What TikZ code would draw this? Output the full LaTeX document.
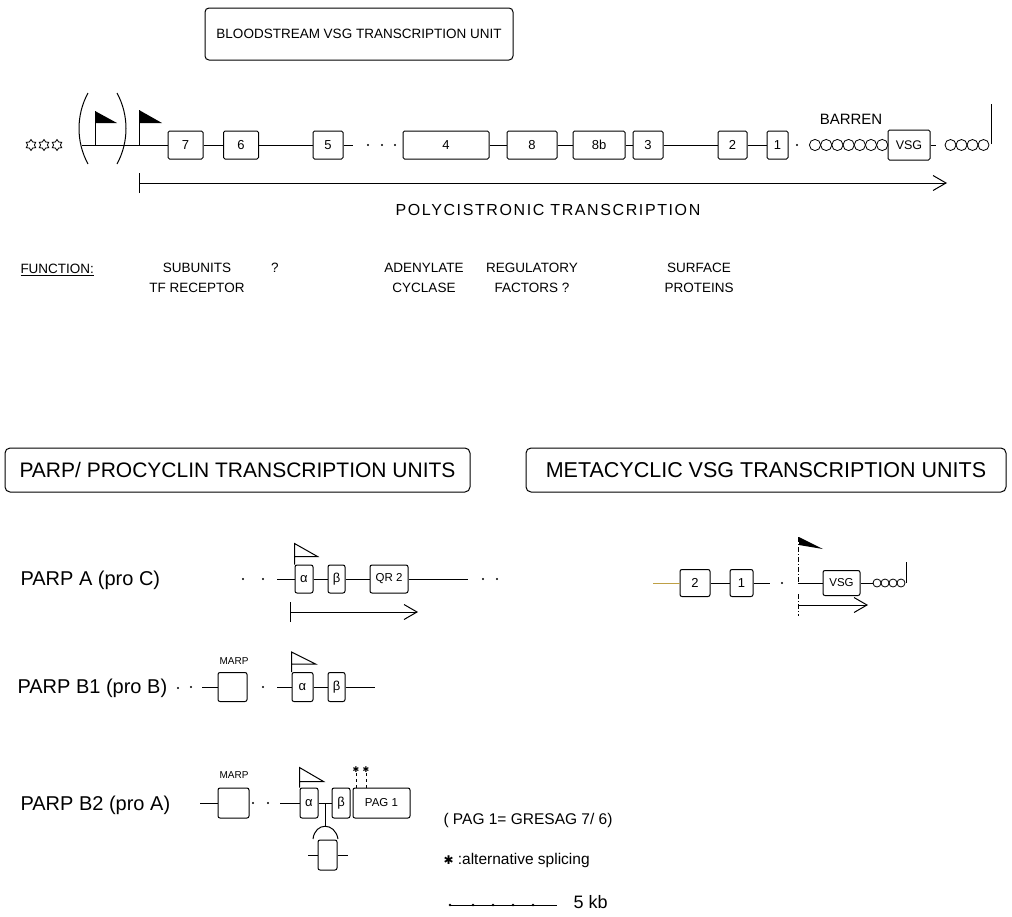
\documentclass[tikz,border=0pt]{standalone}
\usepackage{fontspec}
\setmainfont{Liberation Sans}
\newfontfamily\dejavu{DejaVu Sans}
\newfontfamily\spaced[LetterSpace=10]{Liberation Sans}
\usepackage{tikz}
\usetikzlibrary{
  arrows.meta,
  positioning,
  shapes.geometric
}
\newcommand{\fsz}[1]{\fontsize{#1}{#1}\selectfont}

\begin{document}
\begin{tikzpicture}[
    x=1pt, y=-1pt, line width=1pt,
    unitbox/.style={draw, rounded corners=4pt, inner sep=0pt, font=\fsz{13.5}},
    hdrbox/.style={draw, rounded corners=5pt, inner sep=0pt, font=\fsz{21}},
    gene/.style={draw, rounded corners=1.5pt, inner sep=0pt, minimum height=28pt,
                 font=\fsz{13}},
    exon/.style={draw, rounded corners=2pt, inner sep=0pt, minimum height=28pt,
                 font=\fsz{13}},
    fn/.style={font=\fsz{13.5}, align=center, inner sep=0pt},
    big/.style={font=\fsz{20}, inner sep=0pt, anchor=west},
    leg/.style={font=\fsz{15.5}, inner sep=0pt, anchor=west},
    dotn/.style={circle, fill=black, inner sep=0pt, minimum size=2.4pt},
    rep/.style={draw, line width=0.8pt},
    promo/.style={star, star points=6, star point ratio=1.6, draw, inner sep=0pt,
                  minimum size=11pt, line width=0.8pt},
    txarrow/.style={{Bar[width=20pt]}-{Straight Barb[length=13pt,width=15pt]}}
  ]
    \path[use as bounding box, fill=white] (0,0) rectangle (1012,916);

    % bloodstream unit
    \node[unitbox, minimum width=308pt, minimum height=52pt] (bsT) at (359,34)
      {BLOODSTREAM VSG TRANSCRIPTION UNIT};
    \node[promo] (st1) at (31,145) {};
    \node[promo] (st2) at (44,145) {};
    \node[promo] (st3) at (57,145) {};
    \draw (88,93) .. controls (76,115) and (76,142) .. (88,164);
    \draw (117,93) .. controls (129,115) and (129,142) .. (117,164);
    \draw (95,145) -- (95,111);
    \fill (95,111) -- (117,123) -- (95,123) -- cycle;
    \draw (139,145) -- (139,110);
    \fill (139,110) -- (162,123) -- (139,123) -- cycle;
    \coordinate (bsL) at (82,145);
    \node[gene, minimum width=35pt] (b7)  at (185.5,145) {7};
    \node[gene, minimum width=35pt] (b6)  at (241,145) {6};
    \node[gene, minimum width=30pt] (b5)  at (328,145) {5};
    \coordinate (b5r) at (353,145);
    \node[dotn] (d1) at (368,145) {};
    \node[dotn] (d2) at (382,145) {};
    \node[dotn] (d3) at (395,145) {};
    \node[gene, minimum width=86pt] (b4)  at (446,145) {4};
    \node[gene, minimum width=50pt] (b8)  at (532,145) {8};
    \node[gene, minimum width=52pt] (b8b) at (599,145) {8b};
    \node[gene, minimum width=30pt] (b3)  at (648,145) {3};
    \node[gene, minimum width=29pt] (b2)  at (732.5,145) {2};
    \node[gene, minimum width=21pt] (b1)  at (777.5,145) {1};
    \node[dotn] (d4) at (797,145) {};
    \draw (bsL) -- (b7) -- (b6) -- (b5) -- (b5r);
    \draw (b4) -- (b8) -- (b8b) -- (b3) -- (b2) -- (b1);
    \node[font=\fsz{15}] (barren) at (851,119) {BARREN};
    \foreach \i in {0,...,6}
      \draw[rep] (815+11.2*\i,145) circle[radius=5.6pt];
    \node[gene, minimum width=42pt, minimum height=30pt, font=\fsz{12.5}] (vsg) at (909,145) {VSG};
    \coordinate (vsgR) at (936,145);
    \draw (vsg) -- (vsgR);
    \foreach \i in {0,...,3}
      \draw[rep] (950.5+11*\i,145) circle[radius=5.5pt];
    \coordinate (telB) at (991,144);
    \coordinate (telT) at (991,104);
    \draw (telB) -- (telT);
    \coordinate (pcS) at (139,183);
    \coordinate (pcE) at (947,183);
    \draw[txarrow] (pcS) -- (pcE);
    \node[font=\spaced\fsz{16}] (pc) at (548,210) {POLYCISTRONIC TRANSCRIPTION};

    % functions
    \node[font=\fsz{13.5}, anchor=west, inner sep=0pt] (fun) at (20,270) {\underline{FUNCTION:}};
    \node[fn] (f1) at (197,278) {SUBUNITS\\[6pt]TF RECEPTOR};
    \node[fn] (f2) at (275,268) {?};
    \node[fn] (f3) at (424,278) {ADENYLATE\\[6pt]CYCLASE};
    \node[fn] (f4) at (532,278) {REGULATORY\\[6pt]FACTORS ?};
    \node[fn] (f5) at (699,278) {SURFACE\\[6pt]PROTEINS};

    % PARP / procyclin units
    \node[hdrbox, minimum width=465pt, minimum height=44pt] (ppT) at (237.5,470)
      {PARP/ PROCYCLIN TRANSCRIPTION UNITS};
    \node[big] (pA) at (20,580) {PARP A (pro C)};
    \node[dotn] (pa1) at (243,579) {};
    \node[dotn] (pa2) at (263,579) {};
    \coordinate (paL) at (277,579);
    \node[exon, minimum width=18pt] (paa) at (304,579) {α};
    \node[exon, minimum width=17pt] (pab) at (336.5,579) {β};
    \node[exon, minimum width=38pt, font=\fsz{11.5}] (paq) at (389,579) {QR 2};
    \coordinate (paR) at (468,579);
    \node[dotn] (pa3) at (483,579) {};
    \node[dotn] (pa4) at (497,579) {};
    \draw (paL) -- (paa) -- (pab) -- (paq) -- (paR);
    \draw (paa.north west) -- ++(0,-21) -- ++(23,13) -- ++(-23,0);
    \coordinate (paS) at (290,612);
    \coordinate (paE) at (418,612);
    \draw[txarrow] (paS) -- (paE);

    \node[big] (pB1) at (17,688) {PARP B1 (pro B)};
    \node[dotn] (pb0) at (178,688) {};
    \node[dotn] (pb1) at (191,687) {};
    \coordinate (pbL) at (202,687);
    \node[exon, minimum width=29pt, minimum height=29pt] (pbm) at (232.5,687) {};
    \node[font=\fsz{10}] (pbmT) at (234,661) {MARP};
    \node[dotn] (pb2) at (263,687) {};
    \coordinate (pbL2) at (277,687);
    \node[exon, minimum width=21pt, minimum height=29pt] (pba) at (302.5,687) {α};
    \node[exon, minimum width=17pt, minimum height=29pt] (pbb) at (336.5,687) {β};
    \coordinate (pbR) at (375,687);
    \draw (pbL) -- (pbm);
    \draw (pbL2) -- (pba) -- (pbb) -- (pbR);
    \draw (pba.north west) -- ++(0,-20) -- ++(24,12) -- ++(-24,0);

    \node[big] (pB2) at (20,805) {PARP B2 (pro A)};
    \coordinate (pcL) at (200,803);
    \node[exon, minimum width=31pt, minimum height=30pt] (pcm) at (233.5,803) {};
    \node[font=\fsz{10}] (pcmT) at (234,775) {MARP};
    \node[dotn] (pc1) at (253,803) {};
    \node[dotn] (pc2) at (268,803) {};
    \coordinate (pcL2) at (280,803);
    \node[exon, minimum width=18pt, minimum height=30pt] (pca) at (309,803) {α};
    \node[exon, minimum width=18pt, minimum height=30pt] (pcb) at (341,803) {β};
    \node[exon, minimum width=57pt, minimum height=30pt, font=\fsz{11.5}] (pcg) at (381.5,803) {PAG 1};
    \draw (pcL) -- (pcm);
    \draw (pcL2) -- (pca) -- (pcb);
    \draw (pca.north west) -- ++(0,-20) -- ++(24,14) -- ++(-24,0);
    \node[font=\dejavu\fsz{8}, inner sep=0pt] (sp1) at (356,770) {✱};
    \node[font=\dejavu\fsz{8}, inner sep=0pt] (sp2) at (366,770) {✱};
    \draw[line width=0.6pt, dashed] (sp1) -- (356,789);
    \draw[line width=0.6pt, dashed] (sp2) -- (366,789);
    \coordinate (junc) at (325,803);
    \coordinate (cap) at (325,826);
    \draw (junc) -- (cap);
    \draw (313,839) .. controls (315,822) and (335,822) .. (338,839);
    \node[exon, minimum width=19pt, minimum height=30pt] (alt) at (327.5,855) {};
    \coordinate (altL) at (308,855);
    \coordinate (altR) at (348,855);
    \draw (altL) -- (alt) -- (altR);

    % legend
    \node[leg] (lg1) at (443,820) {( PAG 1= GRESAG 7/ 6)};
    \node[leg] (lg2) at (443,860) {{\dejavu\fsz{12}✱} :alternative splicing};
    \coordinate (sbL) at (450,905);
    \coordinate (sbR) at (557,905);
    \draw[line width=0.7pt] (sbL) -- (sbR);
    \foreach \x in {450,473,493,513,533}
      \fill (\x,905) circle[radius=1.3pt];
    \node[leg, font=\fsz{18}] (sb) at (573,902) {5 kb};

    % metacyclic units
    \node[hdrbox, minimum width=480pt, minimum height=44pt, font=\fsz{21.5}] (mcT) at (766,470)
      {METACYCLIC VSG TRANSCRIPTION UNITS};
    \definecolor{scanyel}{RGB}{190,160,70}
    \coordinate (mL) at (653,583);
    \node[exon, minimum width=30pt, minimum height=27pt] (m2) at (695,583) {2};
    \node[exon, minimum width=23pt, minimum height=27pt] (m1) at (741.5,583) {1};
    \coordinate (m1R) at (770,583);
    \node[dotn] (md) at (782,583) {};
    \draw[scanyel] (mL) -- (m2);
    \draw (m2) -- (m1) -- (m1R);
    \draw[line width=0.8pt, dash pattern=on 5pt off 2pt on 1pt off 2pt] (798,537) -- (798,583);
    \fill (799,537) -- (823,549) -- (799,545) -- cycle;
    \coordinate (mS) at (798,583);
    \node[exon, minimum width=37pt, minimum height=25pt, font=\fsz{11.5}] (mv) at (841.5,583) {VSG};
    \coordinate (mvR) at (873,583);
    \draw (mS) -- (mv) -- (mvR);
    \foreach \i in {0,...,3}
      \draw[rep] (877+8*\i,583) circle[radius=4pt];
    \coordinate (mtB) at (906,583);
    \coordinate (mtT) at (906,562);
    \draw (mtB) -- (mtT);
    \draw[line width=0.8pt, dash pattern=on 5pt off 2pt on 1pt off 2pt] (798,594) -- (798,616);
    \coordinate (maS) at (798,605);
    \coordinate (maE) at (868,605);
    \draw[-{Straight Barb[length=13pt,width=15pt]}] (maS) -- (maE);
  \end{tikzpicture}
\end{document}
